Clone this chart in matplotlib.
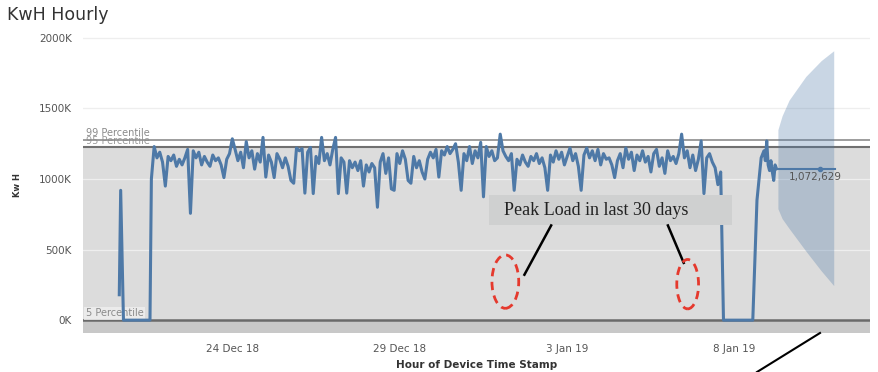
import pandas as pd
import matplotlib
matplotlib.use("Agg")
import matplotlib.pyplot as plt
import matplotlib.dates as mdates
from matplotlib.patches import Ellipse, Rectangle
from matplotlib.lines import Line2D

# values in thousands of kWh
start_times = ["2018-12-20 15:00", "2018-12-20 16:00", "2018-12-20 18:00", "2018-12-21 13:00"]
start_vals = [180, 920, 0, 0]

main_start = "2018-12-21 14:00"  # 2-hourly readings
main_vals = [
    1000, 1230, 1150, 1190, 1120, 950, 1160, 1130, 1170, 1090,
    1140, 1100, 1150, 1210, 757, 1200, 1150, 1190, 1100, 1160,
    1120, 1090, 1170, 1130, 1150, 1100, 1010, 1140, 1180, 1285,
    1210, 1130, 1190, 1080, 1265, 1150, 1200, 1070, 1180, 1120,
    1295, 1014, 1170, 1120, 1010, 1180, 1140, 1080, 1150, 1090,
    990, 970, 1220, 1200, 1215, 900, 1190, 1224, 897, 1160,
    1110, 1295, 1130, 1180, 1100, 1210, 1295, 897, 1150, 1120,
    900, 1130, 1080, 1120, 1060, 1130, 950, 1100, 1050, 1110,
    1080, 800, 1120, 1180, 1040, 1150, 930, 920, 1180, 1110,
    1200, 1140, 990, 970, 1160, 1080, 1130, 1050, 1000, 1140,
    1190, 1150, 1210, 1014, 1200, 1170, 1230, 1180, 1210, 1250,
    1120, 920, 1180, 1130, 1230, 1110, 1200, 1150, 1260, 874,
    1230, 1160, 1200, 1130, 1150, 1318, 1200, 1160, 1130, 1180,
    920, 1140, 1100, 1170, 1120, 1090, 1160, 1130, 1180, 1110,
    1150, 1080, 920, 1170, 1120, 1200, 1140, 1190, 1100, 1160,
    1220, 1130, 1180, 1090, 920, 1170, 1220, 1150, 1200, 1130,
    1210, 1100, 1180, 1140, 1150, 1100, 1010, 1130, 1180, 1080,
    1220, 1140, 1190, 1060, 1170, 1130, 1200, 1120, 1160, 1050,
    1180, 1210, 1090, 1150, 1040, 1200, 1130, 1160, 1110, 1180,
    1318, 1150, 1200, 1080, 1170, 1060, 1140, 1270, 897, 1150,
    1180, 1120, 1080, 960,
]

end_times = ["2019-01-07 14:00", "2019-01-07 16:00", "2019-01-08 13:00", "2019-01-08 16:00",
             "2019-01-08 19:00", "2019-01-08 21:00", "2019-01-08 22:00", "2019-01-08 23:00",
             "2019-01-09 00:00", "2019-01-09 01:00", "2019-01-09 02:00", "2019-01-09 03:00",
             "2019-01-09 04:00", "2019-01-09 05:00", "2019-01-09 06:00"]
end_vals = [1050, 0, 0, 850, 1150, 1200, 1130, 1270, 1100, 1060, 1130, 1050, 990, 1100, 1072.629]

forecast_times = ["2019-01-09 06:00", "2019-01-11 00:00"]
forecast_val = 1072.629
forecast_dot = "2019-01-10 13:00"

band_times = ["2019-01-09 07:00", "2019-01-09 10:00", "2019-01-09 15:00",
              "2019-01-10 03:00", "2019-01-10 14:00", "2019-01-10 23:00"]
band_upper = [1350, 1448, 1559, 1727, 1839, 1909]
band_lower = [790, 720, 650, 490, 350, 245]

p99, p95, p5 = 1280, 1230, 0

series = pd.concat([
    pd.Series(start_vals, index=pd.to_datetime(start_times)),
    pd.Series(main_vals, index=pd.date_range(main_start, periods=len(main_vals), freq="2h")),
    pd.Series(end_vals, index=pd.to_datetime(end_times)),
])

blue = "#4e79a7"
fig = plt.figure(figsize=(8.79, 3.72), dpi=100)
ax = fig.add_axes([83 / 879, 1 - 333 / 372, 787 / 879, 303 / 372])

ax.set_xlim(pd.Timestamp("2018-12-19 13:00"), pd.Timestamp("2019-01-12 01:00"))
ax.set_ylim(-91, 2056)

# reference bands
ax.axhspan(-91, p5, color="#c8c8c8", zorder=0, lw=0)
ax.axhspan(p5, p95, color="#dcdcdc", zorder=0, lw=0)
for v in [500, 1000, 1500, 2000]:
    ax.axhline(v, color="#eeeeee", lw=0.9, zorder=1)
ax.axhline(p99, color="#8c8c8c", lw=1.2, zorder=2)
ax.axhline(p95, color="#707070", lw=1.5, zorder=2)
ax.axhline(p5, color="#6a6a6a", lw=1.8, zorder=2)

x0 = pd.Timestamp("2018-12-19 15:00")
ax.text(x0, p99 + 8, "99 Percentile", fontsize=7, color="#8a8a8a", va="bottom", zorder=3)
ax.text(x0, p95 + 4, "95 Percentile", fontsize=7, color="#9a9a9a", va="bottom", zorder=1.5)
ax.text(x0, p5 + 12, "5 Percentile", fontsize=7, color="#8a8a8a", va="bottom", zorder=3,
        bbox=dict(facecolor="#efefef", edgecolor="none", pad=1.2, alpha=0.8))

# forecast cone
ax.fill_between(pd.to_datetime(band_times), band_lower, band_upper, color=blue, alpha=0.3,
                lw=0, zorder=2.5)

ax.plot(series.index, series.values, color=blue, lw=2.2, zorder=4, solid_joinstyle="round")
ax.plot(pd.to_datetime(forecast_times), [forecast_val] * 2, color=blue, lw=1.5, zorder=4)
ax.plot([pd.Timestamp(forecast_dot)], [forecast_val], "o", color=blue, ms=3, zorder=4)
ax.text(pd.Timestamp("2019-01-09 15:00"), forecast_val - 58, f"{forecast_val * 1000:,.0f}",
        fontsize=7.5, color="#555555", va="center", zorder=5)

# annotation
box_x0 = mdates.date2num(pd.Timestamp("2018-12-31 16:00"))
box_x1 = mdates.date2num(pd.Timestamp("2019-01-07 22:00"))
ax.add_patch(Rectangle((box_x0, 671), box_x1 - box_x0, 217, facecolor="#cfd0d0",
                       edgecolor="none", zorder=6))
ax.text(pd.Timestamp("2019-01-01 03:00"), 780, "Peak Load in last 30 days",
        family="Liberation Serif", fontsize=13, color="#222222", va="center", zorder=7)
ax.plot(pd.to_datetime(["2019-01-02 12:30", "2019-01-01 17:20"]), [671, 322], color="black",
        lw=1.8, zorder=7)
ax.plot(pd.to_datetime(["2019-01-06 00:10", "2019-01-06 11:30"]), [671, 406], color="black",
        lw=1.8, zorder=7)
for t, y, w, h in [("2019-01-01 03:40", 273, 0.8, 378), ("2019-01-06 14:20", 255, 0.65, 350)]:
    ax.add_patch(Ellipse((mdates.date2num(pd.Timestamp(t)), y), w, h, fill=False,
                         edgecolor="#e5392d", lw=2, ls=(0, (3, 2)), zorder=7))

fig.add_artist(Line2D([820 / 879, 757 / 879], [1 - 333 / 372, 0], color="black", lw=1.5))

ax.set_xticks(pd.to_datetime(["2018-12-24", "2018-12-29", "2019-01-03", "2019-01-08"]))
ax.set_xticklabels(["24 Dec 18", "29 Dec 18", "3 Jan 19", "8 Jan 19"])
ax.set_yticks([0, 500, 1000, 1500, 2000])
ax.set_yticklabels(["0K", "500K", "1000K", "1500K", "2000K"])
ax.tick_params(length=0, labelsize=7.5, labelcolor="#555555", pad=8)
ax.set_xlabel("Hour of Device Time Stamp", fontsize=7.5, fontweight="bold", color="#333333",
              labelpad=4)
for s in ax.spines.values():
    s.set_visible(False)

fig.text(18 / 879, 1 - 185 / 372, "Kw H", rotation=90, fontsize=6, fontweight="bold",
         color="#333333", ha="center", va="center")
fig.text(7 / 879, 1 - 15 / 372, "KwH Hourly", fontsize=12.5, color="#333333", va="center")

fig.savefig("out.png", dpi=100)
